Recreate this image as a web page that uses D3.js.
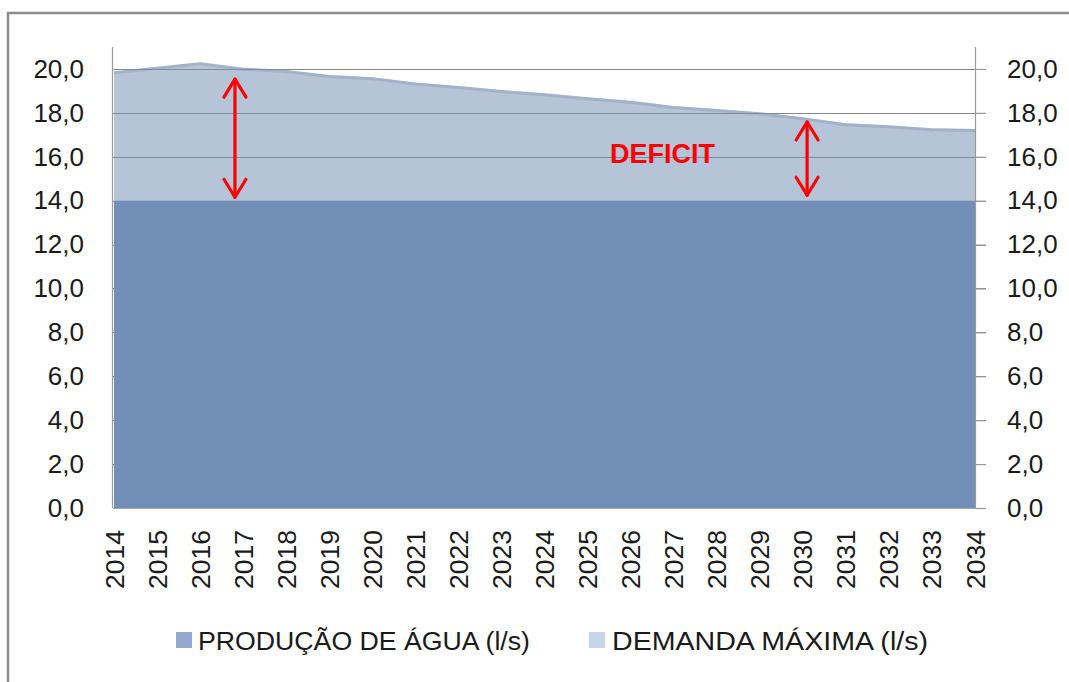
<!DOCTYPE html>
<html>
<head>
<meta charset="utf-8">
<script src="https://cdn.jsdelivr.net/npm/d3@7"></script>
<style>
  html, body { margin: 0; padding: 0; background: #ffffff; }
  svg { display: block; }
  text { font-family: "Liberation Sans", Arial, sans-serif; fill: #1a1a1a; }
</style>
</head>
<body>
<svg id="chart" width="1069" height="682"></svg>
<script>
// ---- data ----
const years = [2014, 2015, 2016, 2017, 2018, 2019, 2020, 2021, 2022, 2023, 2024,
               2025, 2026, 2027, 2028, 2029, 2030, 2031, 2032, 2033, 2034];
const producao = [14.0, 14.0, 14.0, 14.0, 14.0, 14.0, 14.0, 14.0, 14.0, 14.0, 14.0,
                  14.0, 14.0, 14.0, 14.0, 14.0, 14.0, 14.0, 14.0, 14.0, 14.0];
const demanda = [19.9, 20.1, 20.3, 20.06, 19.95, 19.73, 19.62, 19.38, 19.22, 19.04, 18.89,
                 18.71, 18.55, 18.31, 18.18, 18.03, 17.8, 17.53, 17.43, 17.3, 17.27];
const yTicks = [0, 2, 4, 6, 8, 10, 12, 14, 16, 18, 20];
const seriesNames = ["PRODUÇÃO DE ÁGUA (l/s)", "DEMANDA MÁXIMA (l/s)"];
const annotationArrows = [
  { year: 2016.81, from: 14.11, to: 19.58 },
  { year: 2030.1, from: 14.2, to: 17.63 }
];
const annotationLabel = { text: "DEFICIT", year: 2025.52, value: 15.7 };

(function () {
// ---- layout ----
const svg = d3.select("#chart");
const pL = 113, pR = 975, pT = 47, pB = 508;
const x = d3.scaleLinear().domain([2014, 2034]).range([pL + 1, pR]);
const y = d3.scaleLinear().domain([0, 21]).range([pB, pT]);
const fmt = v => d3.format(".1f")(v).replace(".", ",");

// outer frame
svg.append("rect").attr("x", 8).attr("y", 13).attr("width", 1200).attr("height", 800)
  .attr("fill", "none").attr("stroke", "#8c8c8c").attr("stroke-width", 2.5);

// gridlines (behind series)
svg.append("g").selectAll("line").data(yTicks.filter(d => d > 0)).join("line")
  .attr("x1", pL).attr("x2", pR + 11)
  .attr("y1", d => Math.round(y(d)) + 0.5).attr("y2", d => Math.round(y(d)) + 0.5)
  .attr("stroke", "#868686").attr("stroke-width", 1.2);

// demand area (semi-transparent)
const demData = years.map((yr, i) => ({ yr, v: demanda[i] }));
const prodData = years.map((yr, i) => ({ yr, v: producao[i] }));
const area = d3.area().x(d => x(d.yr)).y0(y(0)).y1(d => y(d.v));
svg.append("path").datum(demData).attr("d", area)
  .attr("fill", "#7692b5").attr("fill-opacity", 0.54);
svg.append("path").datum(demData)
  .attr("d", d3.line().x(d => x(d.yr)).y(d => y(d.v) + 1.5))
  .attr("fill", "none").attr("stroke", "#7f93b0").attr("stroke-opacity", 0.35).attr("stroke-width", 3);

// production area (opaque)
svg.append("path").datum(prodData).attr("d", area).attr("fill", "#728fb8");

// axes lines
svg.append("line").attr("x1", pL - 0.5).attr("x2", pL - 0.5).attr("y1", pT).attr("y2", pB)
  .attr("stroke", "#9a9a9a").attr("stroke-width", 1.2);
svg.append("line").attr("x1", pR + 0.5).attr("x2", pR + 0.5).attr("y1", pT).attr("y2", pB)
  .attr("stroke", "#9a9a9a").attr("stroke-width", 1.2);
svg.append("line").attr("x1", pL).attr("x2", pR + 11).attr("y1", pB + 0.5).attr("y2", pB + 0.5)
  .attr("stroke", "#a8a8a8").attr("stroke-width", 1.2);

// left y axis labels
const yAxisL = d3.axisLeft(y).tickValues(yTicks).tickFormat(fmt).tickSize(0).tickPadding(29);
const gL = svg.append("g").attr("transform", `translate(${pL},0)`).call(yAxisL);
gL.select(".domain").remove();
gL.selectAll("text").attr("font-size", 26).attr("fill", "#1a1a1a")
  .attr("font-family", "Liberation Sans, Arial, sans-serif");

// right y axis with outward ticks
const yAxisR = d3.axisRight(y).tickValues(yTicks).tickFormat(fmt).tickSize(11).tickPadding(21);
const gR = svg.append("g").attr("transform", `translate(${pR},0)`).call(yAxisR);
gR.select(".domain").remove();
gR.selectAll("line").attr("stroke", "#9a9a9a").attr("stroke-width", 1.2);
gR.selectAll("text").attr("font-size", 26).attr("fill", "#1a1a1a")
  .attr("font-family", "Liberation Sans, Arial, sans-serif");

// x axis labels (rotated)
const xAxis = d3.axisBottom(x).tickValues(years).tickFormat(d3.format("d")).tickSize(0);
const gX = svg.append("g").attr("transform", `translate(0,${pB})`).call(xAxis);
gX.select(".domain").remove();
gX.selectAll("text")
  .attr("font-size", 25).attr("fill", "#1a1a1a")
  .attr("font-family", "Liberation Sans, Arial, sans-serif")
  .attr("text-anchor", "end").attr("dy", null).attr("y", 0).attr("x", 0)
  .attr("dominant-baseline", "central")
  .attr("transform", "translate(0,22) rotate(-90)")
  .attr("textLength", 59).attr("lengthAdjust", "spacingAndGlyphs");

// annotations: arrows
const red = "#ff0000";
annotationArrows.forEach(a => {
  const cx = x(a.year), y1 = y(a.to), y0 = y(a.from);
  const g = svg.append("g").attr("stroke", red).attr("stroke-width", 3.2)
    .attr("fill", "none").attr("stroke-linecap", "round").attr("stroke-linejoin", "round");
  g.append("line").attr("x1", cx).attr("x2", cx).attr("y1", y1 + 1).attr("y2", y0 - 1);
  g.append("polyline").attr("points", `${cx - 11},${y1 + 19} ${cx},${y1 + 1} ${cx + 11},${y1 + 19}`);
  g.append("polyline").attr("points", `${cx - 11},${y0 - 19} ${cx},${y0 - 1} ${cx + 11},${y0 - 19}`);
});
svg.append("text").text(annotationLabel.text)
  .attr("x", x(annotationLabel.year)).attr("y", y(annotationLabel.value))
  .attr("font-size", 27).attr("font-weight", "bold").style("fill", red)
  .attr("textLength", 105).attr("lengthAdjust", "spacingAndGlyphs");

// legend
const legend = [
  { name: seriesNames[0], color: "#95a9cf", sx: 176, tx: 198, tw: 332 },
  { name: seriesNames[1], color: "#c6d5ea", sx: 589, tx: 612, tw: 316 }
];
const lg = svg.append("g");
legend.forEach(l => {
  lg.append("rect").attr("x", l.sx).attr("y", 632).attr("width", 16).attr("height", 16).attr("fill", l.color);
  lg.append("text").text(l.name).attr("x", l.tx).attr("y", 650)
    .attr("font-size", 26).attr("fill", "#1a1a1a")
    .attr("textLength", l.tw).attr("lengthAdjust", "spacingAndGlyphs");
});
})();
</script>
</body>
</html>
